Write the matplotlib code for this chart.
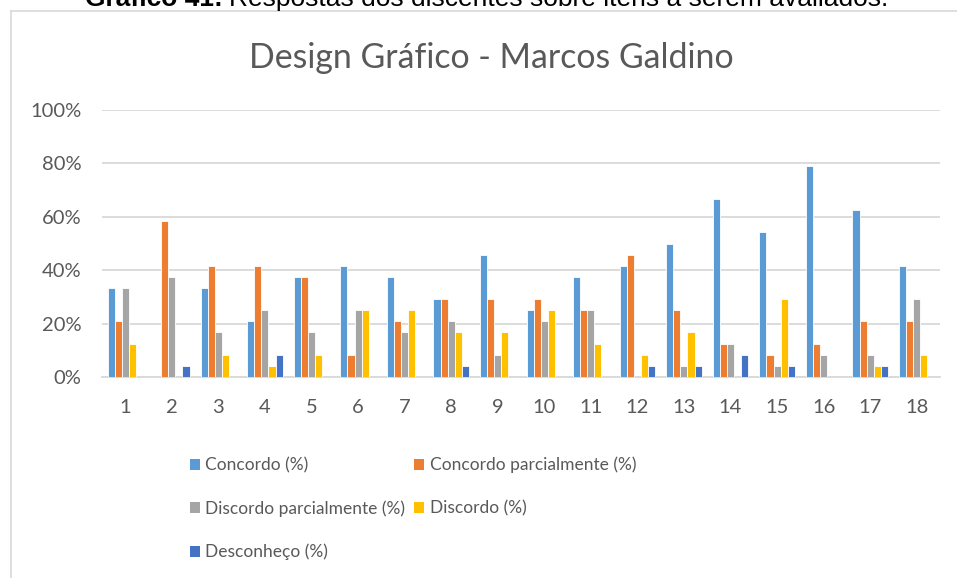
import matplotlib
matplotlib.use("Agg")
import matplotlib.pyplot as plt
import numpy as np
from matplotlib.patches import Patch

# Item numbers on the x axis
itens = [str(i) for i in range(1, 19)]

# Share of answers per item (%)
concordo = [33.3, 0, 33.3, 20.8, 37.5, 41.7, 37.5, 29.2, 45.8, 25.0,
            37.5, 41.7, 50.0, 66.7, 54.2, 79.2, 62.5, 41.7]
concordo_parcial = [20.8, 58.3, 41.7, 41.7, 37.5, 8.3, 20.8, 29.2, 29.2, 29.2,
                    25.0, 45.8, 25.0, 12.5, 8.3, 12.5, 20.8, 20.8]
discordo_parcial = [33.3, 37.5, 16.7, 25.0, 16.7, 25.0, 16.7, 20.8, 8.3, 20.8,
                    25.0, 0, 4.2, 12.5, 4.2, 8.3, 8.3, 29.2]
discordo = [12.5, 0, 8.3, 4.2, 8.3, 25.0, 25.0, 16.7, 16.7, 25.0,
            12.5, 8.3, 16.7, 0, 29.2, 0, 4.2, 8.3]
desconheco = [0, 4.2, 0, 8.3, 0, 0, 0, 4.2, 0, 0,
              0, 4.2, 4.2, 8.3, 4.2, 0, 4.2, 0]

series = [
    ("Concordo (%)", concordo, "#5B9BD5"),
    ("Concordo parcialmente (%)", concordo_parcial, "#ED7D31"),
    ("Discordo parcialmente (%)", discordo_parcial, "#A5A5A5"),
    ("Discordo (%)", discordo, "#FFC000"),
    ("Desconheço (%)", desconheco, "#4472C4"),
]

TXT = "#595959"
GRID = "#D9D9D9"
W, H = 957, 578

plt.rcParams["font.family"] = ["Lato", "DejaVu Sans"]
fig = plt.figure(figsize=(W / 100, H / 100), dpi=100)
renderer = fig.canvas.get_renderer()

# chart frame (only left and top edges fall inside the image)
fig.add_artist(plt.Line2D([10.5 / W, 10.5 / W], [0, 1 - 10.5 / H],
                          color=GRID, lw=1.2))
fig.add_artist(plt.Line2D([10.5 / W, 1], [1 - 10.5 / H, 1 - 10.5 / H],
                          color=GRID, lw=1.2))

# document caption above the chart, partly cut by the page edge
cap_y = 1 - 6 / H
t1 = fig.text(85 / W, cap_y, "Gráfico 41:", fontsize=19, fontweight="bold",
              family="Liberation Sans", va="baseline", ha="left", color="black")
x2 = t1.get_window_extent(renderer).x1 + 6
fig.text(x2 / W, cap_y, "Respostas dos discentes sobre itens a serem avaliados.",
         fontsize=19, family="Liberation Sans", va="baseline", ha="left",
         color="black")

ax = fig.add_axes([102 / W, 1 - 377 / H, (940 - 102) / W, (377 - 110) / H])

x = np.arange(len(itens))
bw = 0.152
for k, (label, vals, color) in enumerate(series):
    ax.bar(x + (k - 2) * bw, np.array(vals) / 100, width=bw, color=color,
           edgecolor="white", linewidth=0.6, zorder=3)

ax.set_xlim(-0.5, len(itens) - 0.5)
ax.set_ylim(0, 1)
yt = np.arange(0, 1.01, 0.2)
ax.set_yticks(yt)
ax.set_yticklabels([f"{int(round(v * 100))}%" for v in yt])
ax.set_xticks(x)
ax.set_xticklabels(itens)
ax.yaxis.grid(True, color=GRID, lw=1.3, zorder=0)
ax.tick_params(axis="both", length=0, labelsize=14.5, colors=TXT)
ax.tick_params(axis="y", pad=15)
ax.tick_params(axis="x", pad=16)
for s in ["top", "right", "left"]:
    ax.spines[s].set_visible(False)
ax.spines["bottom"].set_color(GRID)
ax.spines["bottom"].set_linewidth(1.3)

fig.text(491 / W, 1 - 58 / H, "Design Gráfico - Marcos Galdino",
         fontsize=24.4, color=TXT, ha="center", va="center")

# legend: two columns, filled row by row
order = [0, 2, 4, 1, 3]
handles = [Patch(facecolor=series[i][2]) for i in order]
labels = [series[i][0] for i in order]
fig.legend(handles, labels, ncol=2, frameon=False, fontsize=12.5,
           labelcolor=TXT, loc="upper left",
           bbox_to_anchor=(181 / W, 1 - 448 / H),
           handlelength=0.6, handleheight=0.6, handletextpad=0.3,
           columnspacing=0.5, labelspacing=1.55, borderpad=0)

fig.savefig("out.png", dpi=100, facecolor="white")
